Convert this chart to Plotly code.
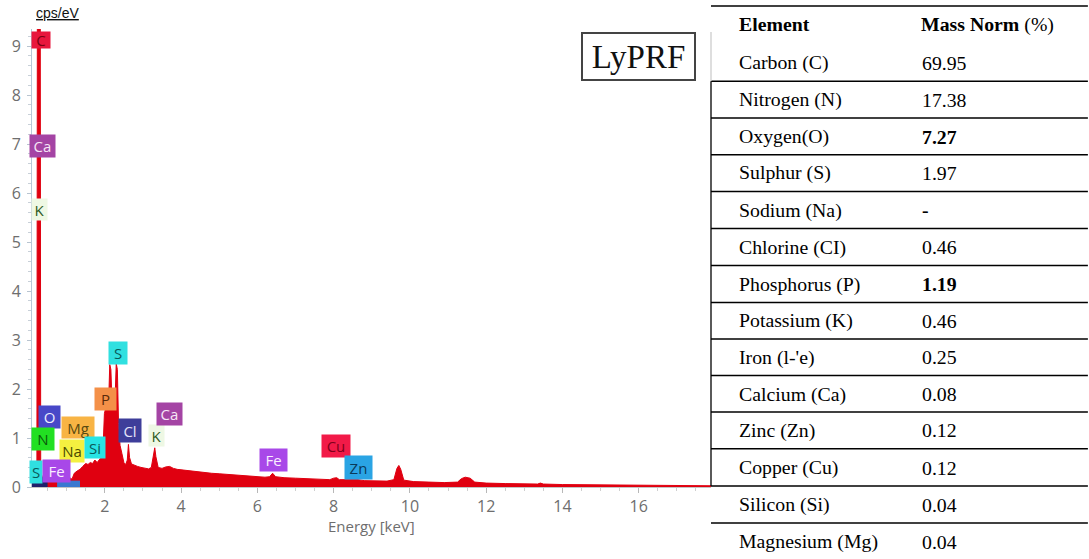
import plotly.graph_objects as go

# ---------------- EDS spectrum (LyPRF) ----------------
energy_kev = [
    0.09, 0.15, 0.20, 0.22, 0.27, 0.32, 0.40, 0.55, 0.70, 0.90,
    1.00, 1.10, 1.14, 1.20, 1.28, 1.35, 1.42, 1.50, 1.56, 1.62,
    1.68, 1.74, 1.80, 1.86, 1.92, 1.96, 1.99, 2.02, 2.06, 2.10,
    2.13, 2.16, 2.19, 2.23, 2.27, 2.30, 2.33, 2.36, 2.40, 2.45,
    2.50, 2.55, 2.59, 2.62, 2.65, 2.70, 2.78, 2.86, 2.95, 3.05,
    3.15, 3.22, 3.28, 3.31, 3.34, 3.40, 3.50, 3.60, 3.70, 3.80,
    3.90, 4.00, 4.20, 4.40, 4.60, 4.80, 5.00, 5.30, 5.60, 5.90,
    6.20, 6.32, 6.40, 6.48, 6.70, 7.00, 7.30, 7.60, 7.90, 8.00,
    8.08, 8.15, 8.50, 8.64, 8.80, 9.10, 9.40, 9.58, 9.66, 9.71,
    9.76, 9.84, 10.10, 10.50, 10.90, 11.25, 11.35, 11.45, 11.58, 11.70,
    12.00, 12.50, 13.00, 13.35, 13.42, 13.50, 14.00, 14.50, 15.00, 15.50,
    16.00, 16.50, 17.00, 17.50, 17.90,
]
counts_cps_ev = [
    0.02, 0.05, 0.10, 0.30, 40.0, 0.30, 0.12, 0.12, 0.10, 0.10,
    0.14, 0.18, 0.16, 0.28, 0.33, 0.36, 0.42, 0.48, 0.46, 0.50,
    0.48, 0.55, 0.50, 0.56, 0.62, 0.90, 1.50, 1.60, 1.58, 1.70,
    2.50, 2.40, 1.70, 1.55, 1.80, 2.52, 2.40, 1.30, 0.85, 0.68,
    0.50, 0.46, 0.55, 0.87, 0.60, 0.47, 0.44, 0.42, 0.40, 0.38,
    0.37, 0.40, 0.62, 0.80, 0.62, 0.40, 0.38, 0.41, 0.42, 0.38,
    0.36, 0.35, 0.33, 0.32, 0.30, 0.28, 0.27, 0.25, 0.23, 0.21,
    0.20, 0.21, 0.28, 0.21, 0.19, 0.18, 0.17, 0.16, 0.15, 0.18,
    0.19, 0.15, 0.14, 0.15, 0.13, 0.12, 0.12, 0.15, 0.38, 0.44,
    0.36, 0.14, 0.11, 0.10, 0.09, 0.10, 0.17, 0.20, 0.18, 0.10,
    0.08, 0.07, 0.06, 0.06, 0.08, 0.06, 0.05, 0.045, 0.04, 0.04,
    0.035, 0.03, 0.03, 0.025, 0.025,
]

# element markers placed on the spectrum
label_text = ["C", "Ca", "K", "O", "N", "Mg", "Na", "Si", "S", "Fe",
              "P", "S", "Cl", "K", "Ca", "Fe", "Cu", "Zn"]
label_energy = [0.33, 0.37, 0.30, 0.55, 0.38, 1.29, 1.14, 1.74, 0.20, 0.745,
                2.03, 2.34, 2.65, 3.36, 3.70, 6.42, 8.07, 8.65]
label_cps = [9.12, 6.96, 5.67, 1.43, 0.98, 1.22, 0.73, 0.80, 0.31, 0.33,
             1.80, 2.73, 1.16, 1.06, 1.49, 0.56, 0.84, 0.40]

# table of mass-normalised composition
table_elements = ["Carbon (C)", "Nitrogen (N)", "Oxygen(O)", "Sulphur (S)",
                  "Sodium (Na)", "Chlorine (CI)", "Phosphorus (P)",
                  "Potassium (K)", "Iron (l-'e)", "Calcium (Ca)", "Zinc (Zn)",
                  "Copper (Cu)", "Silicon (Si)", "Magnesium (Mg)"]
table_mass_norm = ["69.95", "17.38", "7.27", "1.97", "-", "0.46", "1.19",
                   "0.46", "0.25", "0.08", "0.12", "0.12", "0.04", "0.04"]
table_bold = ["7.27", "1.19", "-"]

# ---------------- styling ----------------
W, H = 1089, 559
ML, MR, MT, MB = 30, 378, 29, 72
PW, PH = W - ML - MR, H - MT - MB

def px(xp):
    return (xp - ML) / PW

def py(yp):
    return (H - MB - yp) / PH

RED = "rgb(224,0,16)"
TICK_GREY = "#6e6e6e"

label_style = {
    # symbol: (background, text colour, box width, box height)
    "C": ("#e8163c", "#7a0010", 18, 16),
    "Ca": ("#a444a4", "#f6e6f6", 25, 22),
    "K": ("#eef8e4", "#2d5a1e", 15, 21),
    "O": ("#4848c8", "#ececff", 21, 22),
    "N": ("#22e022", "#0a5a0a", 22, 22),
    "Mg": ("#f8b444", "#5a4a10", 32, 21),
    "Na": ("#f4f040", "#4a4a00", 24, 22),
    "Si": ("#28e4e4", "#0a5a5a", 20, 21),
    "S": ("#30e0e0", "#0a5a5a", 18, 22),
    "Fe": ("#a848e8", "#faeeff", 27, 22),
    "P": ("#f49048", "#5a2a0a", 21, 22),
    "Cl": ("#3e3e9a", "#e4e4fa", 22, 23),
    "Cu": ("#f21a48", "#80001a", 28, 22),
    "Zn": ("#2aa4e4", "#0a3a5a", 27, 23),
}

fig = go.Figure()
fig.add_trace(go.Scatter(
    x=energy_kev, y=counts_cps_ev, mode="lines", fill="tozeroy",
    line=dict(color=RED, width=1), fillcolor=RED, hoverinfo="skip",
))

annotations = []
for i, (sym, e, c) in enumerate(zip(label_text, label_energy, label_cps)):
    bg, fg, bw, bh = label_style[sym]
    if sym == "S" and i == 8:
        bw = 12
    annotations.append(dict(
        x=e, y=c, xref="x", yref="y", text=sym, showarrow=False,
        bgcolor=bg, width=bw, height=bh, borderpad=0,
        font=dict(family="Open Sans", size=15, color=fg),
        xanchor="center", yanchor="middle",
    ))

# axis captions
annotations.append(dict(
    x=px(56), y=py(13), xref="paper", yref="paper", text="<u>cps/eV</u>",
    showarrow=False, xanchor="center", yanchor="middle",
    font=dict(family="Liberation Sans", size=14, color="#111"),
))
annotations.append(dict(
    x=px(370), y=py(526), xref="paper", yref="paper", text="Energy [keV]",
    showarrow=False, xanchor="center", yanchor="middle",
    font=dict(family="Open Sans", size=15, color=TICK_GREY),
))

# sample tag
annotations.append(dict(
    x=px(638.5), y=py(56.5), xref="paper", yref="paper", text="LyPRF",
    showarrow=False, xanchor="center", yanchor="middle",
    width=111, height=45, borderpad=0,
    bordercolor="#444", borderwidth=2, bgcolor="white",
    font=dict(family="Liberation Serif", size=33, color="#111"),
))

# composition table
TX_NAME, TX_VAL = 737, 920
header_y = 24
row_y = [63, 99.5, 136.5, 173, 210, 247, 284, 321, 357, 394, 430, 467.5, 504.5, 541.5]
tfont = dict(family="Liberation Serif", size=19.8, color="black")

def table_text(x, y, text):
    annotations.append(dict(x=px(x), y=py(y), xref="paper", yref="paper",
                            text=text, showarrow=False, xanchor="left",
                            yanchor="middle", font=tfont))

table_text(TX_NAME, header_y, "<b>Element</b>")
table_text(TX_VAL, header_y, "<b>Mass Norm</b> (%)")
for name, val, yy in zip(table_elements, table_mass_norm, row_y):
    table_text(TX_NAME, yy, name)
    table_text(TX_VAL + 1, yy, f"<b>{val}</b>" if val in table_bold else val)

shapes = []
TL, TR = 711, 1089
line_ys = [6] + [(a + b) / 2 for a, b in zip(row_y[:-1], row_y[1:])]
for yy in line_ys:
    shapes.append(dict(type="line", xref="paper", yref="paper",
                       x0=px(TL), x1=px(TR), y0=py(yy), y1=py(yy),
                       line=dict(color="black", width=1.3)))
# left border of the table body
shapes.append(dict(type="line", xref="paper", yref="paper",
                   x0=px(TL), x1=px(TL), y0=py(32), y1=py(line_ys[1]),
                   line=dict(color="#cccccc", width=1.3)))
shapes.append(dict(type="line", xref="paper", yref="paper",
                   x0=px(TL), x1=px(TL), y0=py(line_ys[1]), y1=py(line_ys[12]),
                   line=dict(color="black", width=1.3)))
# overlapping low-energy markers at the origin
shapes.append(dict(type="rect", xref="x", yref="y", x0=0.75, x1=1.35, y0=0, y1=0.13,
                   fillcolor="#3a78d0", line=dict(width=0), layer="above"))
shapes.append(dict(type="rect", xref="x", yref="y", x0=0.09, x1=0.5, y0=0, y1=0.2,
                   fillcolor="#20206a", line=dict(width=0), layer="above"))

fig.update_layout(
    width=W, height=H,
    margin=dict(l=ML, r=MR, t=MT, b=MB),
    paper_bgcolor="white", plot_bgcolor="white",
    showlegend=False,
    font=dict(family="Open Sans"),
    annotations=annotations,
    shapes=shapes,
    xaxis=dict(
        range=[0.0915, 17.895], tickvals=[2, 4, 6, 8, 10, 12, 14, 16],
        ticks="outside", ticklen=5, tickcolor="#b8b8b8",
        showline=True, linecolor="#c4c4c4", linewidth=1,
        showgrid=False, zeroline=False,
        tickfont=dict(family="Open Sans", size=16, color=TICK_GREY),
        minor=dict(dtick=0.5, ticks="outside", ticklen=3, tickcolor="#cfcfcf"),
    ),
    yaxis=dict(
        range=[0, 9.35], dtick=1,
        ticks="outside", ticklen=4, tickcolor="#b8c4d0",
        showline=True, linecolor="#b8c8d8", linewidth=1,
        showgrid=False, zeroline=False,
        tickfont=dict(family="Open Sans", size=16, color=TICK_GREY),
        ticklabelstandoff=3,
        minor=dict(dtick=0.2, ticks="outside", ticklen=3, tickcolor="#c8d0d8"),
    ),
)

fig.write_html("out.html")
